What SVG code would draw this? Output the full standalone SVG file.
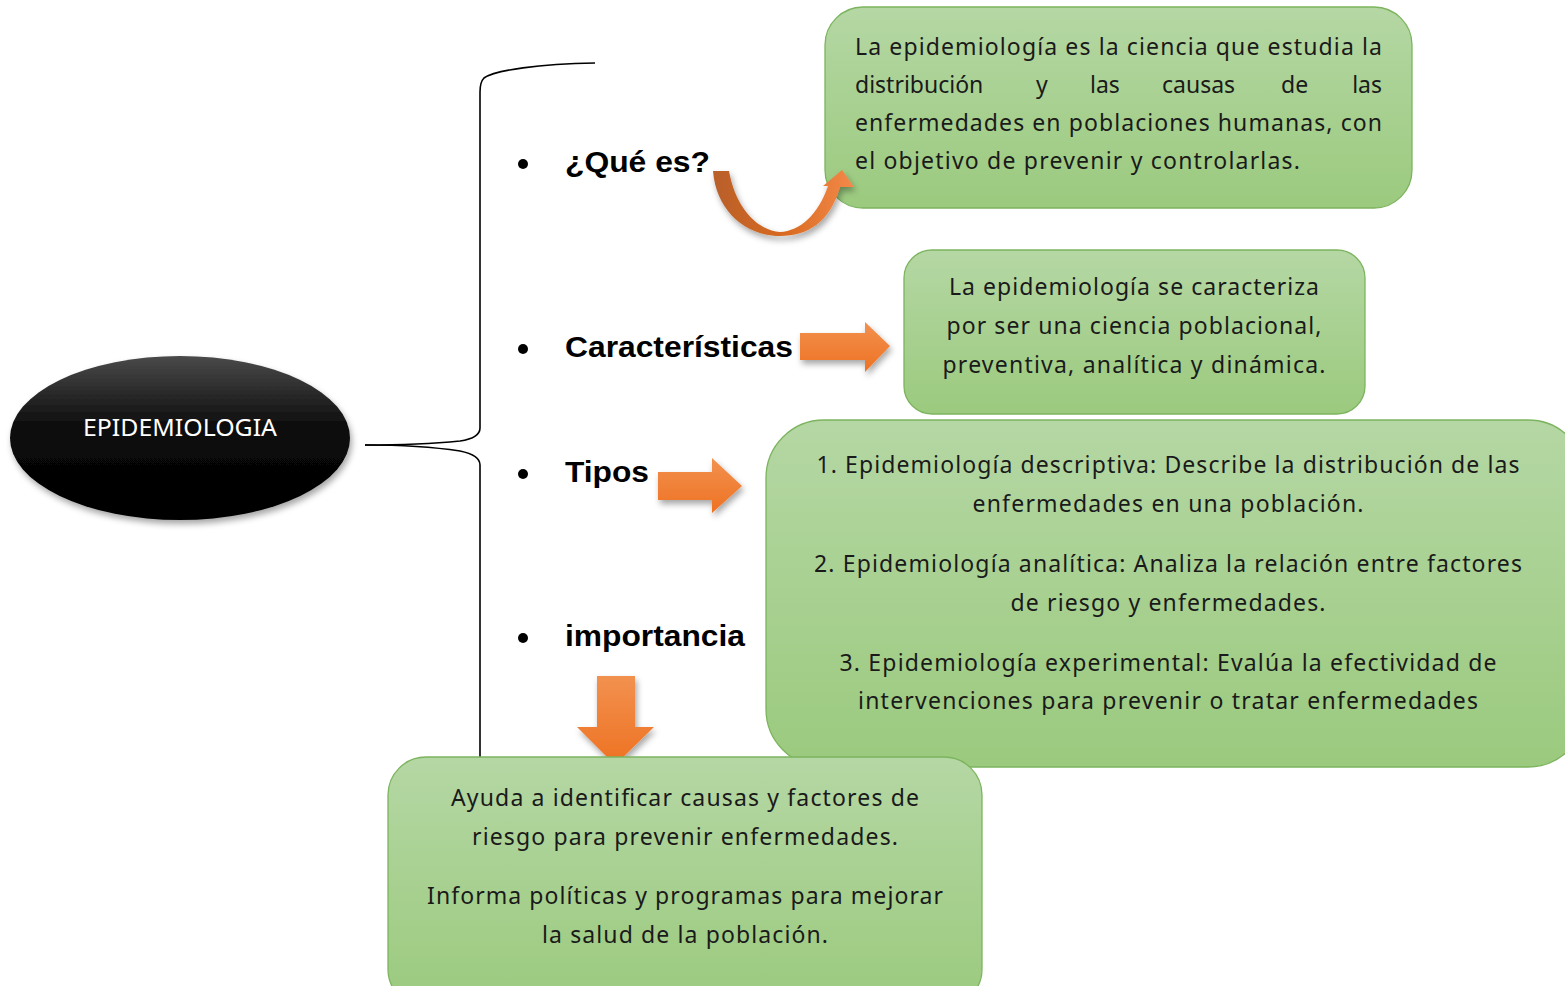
<svg xmlns="http://www.w3.org/2000/svg" width="1565" height="986" viewBox="0 0 1565 986">
<defs>
<linearGradient id="gGreen" x1="0" y1="0" x2="0" y2="1"><stop offset="0" stop-color="#b5d7a4"/><stop offset="1" stop-color="#9bca7e"/></linearGradient>
<linearGradient id="gEll" x1="0" y1="0" x2="0" y2="1"><stop offset="0" stop-color="#4a4a4a"/><stop offset="0.45" stop-color="#0a0a0a"/><stop offset="1" stop-color="#000"/></linearGradient>
<linearGradient id="gOr" x1="0" y1="0" x2="0" y2="1"><stop offset="0" stop-color="#f2914f"/><stop offset="1" stop-color="#ee7222"/></linearGradient>
<linearGradient id="gCurve" x1="0" y1="0" x2="1" y2="0"><stop offset="0" stop-color="#b85f2b"/><stop offset="0.5" stop-color="#d86a20"/><stop offset="1" stop-color="#f4894a"/></linearGradient>
<filter id="sh" x="-20%" y="-20%" width="140%" height="150%"><feDropShadow dx="2" dy="4" stdDeviation="3" flood-color="#000" flood-opacity="0.35"/></filter>
</defs>
<style>
.box{fill:url(#gGreen);stroke:#7cb45e;stroke-width:1.3}
.t{font-family:"Noto Sans","Open Sans",sans-serif;font-size:23px;fill:#1a1a1a}
.c{text-anchor:middle}
.e{text-anchor:end}
.lbl{font-family:"Liberation Sans",Arial,sans-serif;font-weight:bold;font-size:29px;fill:#000}
.arr{fill:url(#gOr);filter:url(#sh)}
.br{fill:none;stroke:#000;stroke-width:1.6}
</style>

<g id="connectors">
<path class="br" d="M595,63 C540,64 495,70 484,78 Q480,82 480,92 L480,428 Q480,438 460,441 Q420,445 365,445"/>
<path class="br" d="M365,445 Q420,445 460,451 Q480,455 480,465 L480,757"/>
<path class="arr" d="M800,333 L865,333 L865,322 L890,346 L865,372 L865,360 L800,360 Z"/>
<path class="arr" d="M658,472 L712,472 L712,458 L742,486 L712,513 L712,500 L658,500 Z"/>
<path class="arr" d="M597,676 L635,676 L635,727 L654,727 L615,765 L577,727 L597,727 Z"/>
</g>

<g id="node-epidemiologia">
<ellipse cx="180" cy="438" rx="170" ry="82" fill="url(#gEll)" filter="url(#sh)"/>
<text x="180" y="436" class="t c" style="fill:#fff;font-size:23px" textLength="194" lengthAdjust="spacingAndGlyphs">EPIDEMIOLOGIA</text>
</g>

<g id="bullets">
<circle cx="523" cy="164" r="5"/>
<circle cx="523" cy="349" r="5"/>
<circle cx="523" cy="474" r="5"/>
<circle cx="523" cy="638" r="5"/>
<text x="565" y="172" class="lbl" textLength="145" lengthAdjust="spacingAndGlyphs">¿Qué es?</text>
<text x="565" y="357" class="lbl" textLength="228" lengthAdjust="spacingAndGlyphs">Características</text>
<text x="565" y="482" class="lbl" textLength="84" lengthAdjust="spacingAndGlyphs">Tipos</text>
<text x="565" y="646" class="lbl" textLength="180" lengthAdjust="spacingAndGlyphs">importancia</text>
</g>

<g id="node-que-es">
<rect class="box" x="825" y="7" width="587" height="201" rx="38"/>
<text class="t" x="855" y="55" textLength="527" lengthAdjust="spacing">La epidemiología es la ciencia que estudia la</text>
<text class="t" y="93"><tspan x="855">distribución</tspan><tspan x="1036">y</tspan><tspan x="1090">las</tspan><tspan x="1162">causas</tspan><tspan x="1281">de</tspan></text>
<text class="t e" x="1382" y="93">las</text>
<text class="t" x="855" y="131" textLength="527" lengthAdjust="spacing">enfermedades en poblaciones humanas, con</text>
<text class="t" x="855" y="169" textLength="445" lengthAdjust="spacing">el objetivo de prevenir y controlarlas.</text>
</g>

<g id="connector-que-es">
<path fill="url(#gCurve)" filter="url(#sh)" d="M713,171 L729,171 C735,205 755,230 780,232 C800,231 818,215 828,186 L823,186 L842,170 L854,187 L840,187 C830,222 808,236 780,236 C745,236 716,210 713,171 Z"/>
</g>

<g id="node-caracteristicas">
<rect class="box" x="904" y="250" width="461" height="164" rx="28"/>
<text class="t c" x="1134" y="295" textLength="370" lengthAdjust="spacing">La epidemiología se caracteriza</text>
<text class="t c" x="1134" y="334" textLength="375" lengthAdjust="spacing">por ser una ciencia poblacional,</text>
<text class="t c" x="1134" y="373" textLength="383" lengthAdjust="spacing">preventiva, analítica y dinámica.</text>
</g>

<g id="node-tipos">
<rect class="box" x="766" y="420" width="820" height="347" rx="58"/>
<text class="t c" x="1168" y="473" textLength="703" lengthAdjust="spacing">1. Epidemiología descriptiva: Describe la distribución de las</text>
<text class="t c" x="1168" y="512" textLength="391" lengthAdjust="spacing">enfermedades en una población.</text>
<text class="t c" x="1168" y="572" textLength="708" lengthAdjust="spacing">2. Epidemiología analítica: Analiza la relación entre factores</text>
<text class="t c" x="1168" y="611" textLength="315" lengthAdjust="spacing">de riesgo y enfermedades.</text>
<text class="t c" x="1168" y="671" textLength="657" lengthAdjust="spacing">3. Epidemiología experimental: Evalúa la efectividad de</text>
<text class="t c" x="1168" y="709" textLength="620" lengthAdjust="spacing">intervenciones para prevenir o tratar enfermedades</text>
</g>

<g id="node-importancia">
<rect class="box" x="388" y="757" width="594" height="250" rx="38"/>
<text class="t c" x="685" y="806" textLength="468" lengthAdjust="spacing">Ayuda a identificar causas y factores de</text>
<text class="t c" x="685" y="845" textLength="426" lengthAdjust="spacing">riesgo para prevenir enfermedades.</text>
<text class="t c" x="685" y="904" textLength="516" lengthAdjust="spacing">Informa políticas y programas para mejorar</text>
<text class="t c" x="685" y="943" textLength="286" lengthAdjust="spacing">la salud de la población.</text>
</g>
</svg>
